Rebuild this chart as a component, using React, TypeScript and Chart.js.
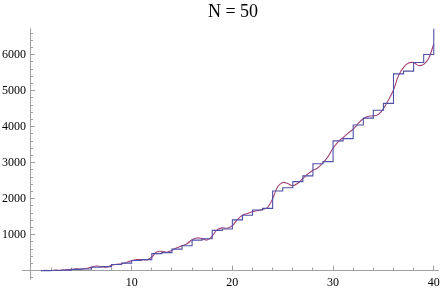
import React, { useEffect, useRef } from 'react';
import { Chart, registerables } from 'chart.js';

Chart.register(...registerables);

const chartTitle = 'N = 50';

// Step function values at each integer n (value holds from n to n+1)
const stepX = [1, 2, 3, 4, 5, 6, 7, 8, 9, 10, 11, 12, 13, 14, 15, 16, 17, 18, 19, 20,
  21, 22, 23, 24, 25, 26, 27, 28, 29, 30, 31, 32, 33, 34, 35, 36, 37, 38, 39, 40];
const stepY = [1, 7, 15, 36, 48, 96, 112, 172, 211, 283, 307, 475, 503, 599, 695, 850, 886, 1120, 1160, 1412,
  1540, 1684, 1732, 2212, 2305, 2473, 2633, 2969, 3029, 3605, 3669, 4047, 4239, 4455, 4647, 5466, 5542, 5782, 6006, 6726];

// Smooth approximation
const smoothX = [1, 1.5, 2, 2.5, 3, 3.5, 4, 4.5, 5, 5.5, 6, 6.5, 7, 7.5, 8, 8.5, 9, 9.5, 10, 10.5,
  11, 11.5, 12, 12.5, 13, 13.5, 14, 14.5, 15, 15.5, 16, 16.5, 17, 17.5, 18, 18.5, 19, 19.5, 20, 20.5,
  21, 21.5, 22, 22.5, 23, 23.5, 24, 24.5, 25, 25.5, 26, 26.5, 27, 27.5, 28, 28.5, 29, 29.5, 30, 30.5,
  31, 31.5, 32, 32.5, 33, 33.5, 34, 34.5, 35, 35.5, 36, 36.5, 37, 37.5, 38, 38.5, 39, 39.5, 40];
const smoothY = [0, 10, 5, 15, 12, 25, 35, 50, 45, 60, 100, 130, 115, 100, 150, 180, 195, 230, 280, 310,
  310, 300, 380, 520, 540, 510, 570, 640, 690, 750, 860, 910, 890, 855, 960, 1140, 1190, 1180, 1250, 1420,
  1540, 1590, 1635, 1670, 1700, 1760, 2000, 2330, 2450, 2420, 2360, 2430, 2560, 2690, 2790, 2860, 3000, 3170, 3400, 3580,
  3700, 3820, 3930, 4090, 4220, 4290, 4300, 4340, 4500, 4740, 5020, 5420, 5650, 5770, 5780, 5700, 5730, 5900, 6300];

const xTickLabels = [10, 20, 30, 40];
const xMinorTicks = [2, 4, 6, 8, 12, 14, 16, 18, 22, 24, 26, 28, 32, 34, 36, 38];
const yTickLabels = [1000, 2000, 3000, 4000, 5000, 6000];
const yMinorTicks = [-200, 200, 400, 600, 800, 1200, 1400, 1600, 1800, 2200, 2400, 2600, 2800,
  3200, 3400, 3600, 3800, 4200, 4400, 4600, 4800, 5200, 5400, 5600, 5800, 6200, 6400, 6600];

const FONT = '"Liberation Serif", "Times New Roman", serif';

const axesPlugin = {
  id: 'mmaAxes',
  beforeDatasetsDraw(chart: any) {
    const { ctx, chartArea } = chart;
    const xs = chart.scales.x;
    const ys = chart.scales.y;
    const ax = Math.floor(xs.getPixelForValue(0)) + 0.5;
    const ay = Math.floor(ys.getPixelForValue(0)) + 0.5;
    ctx.save();
    ctx.strokeStyle = '#a0a0a0';
    ctx.lineWidth = 1;
    ctx.beginPath();
    ctx.moveTo(chartArea.left, ay);
    ctx.lineTo(chartArea.right, ay);
    ctx.moveTo(ax, chartArea.top);
    ctx.lineTo(ax, chartArea.bottom);
    for (const v of xTickLabels) {
      const p = Math.floor(xs.getPixelForValue(v)) + 0.5;
      ctx.moveTo(p, ay);
      ctx.lineTo(p, ay - 5);
    }
    for (const v of xMinorTicks) {
      const p = Math.floor(xs.getPixelForValue(v)) + 0.5;
      ctx.moveTo(p, ay);
      ctx.lineTo(p, ay - 3);
    }
    for (const v of yTickLabels) {
      const p = Math.floor(ys.getPixelForValue(v)) + 0.5;
      ctx.moveTo(ax, p);
      ctx.lineTo(ax + 4.5, p);
    }
    for (const v of yMinorTicks) {
      const p = Math.floor(ys.getPixelForValue(v)) + 0.5;
      ctx.moveTo(ax, p);
      ctx.lineTo(ax + 2.5, p);
    }
    ctx.stroke();
    ctx.restore();
  },
  afterDraw(chart: any) {
    const { ctx } = chart;
    const xs = chart.scales.x;
    const ys = chart.scales.y;
    const ax = xs.getPixelForValue(0);
    const ay = ys.getPixelForValue(0);
    ctx.save();
    ctx.fillStyle = '#000';
    ctx.font = '12px ' + FONT;
    ctx.textAlign = 'right';
    ctx.textBaseline = 'middle';
    for (const v of yTickLabels) {
      ctx.fillText(String(v), ax - 5, ys.getPixelForValue(v) + 0.5);
    }
    ctx.textAlign = 'center';
    ctx.textBaseline = 'top';
    for (const v of xTickLabels) {
      ctx.fillText(String(v), xs.getPixelForValue(v), ay + 6);
    }
    ctx.font = '18px ' + FONT;
    ctx.textBaseline = 'alphabetic';
    ctx.fillText(chartTitle, 233, 17);
    ctx.restore();
  },
};

export default function App() {
  const ref = useRef<HTMLCanvasElement>(null);
  useEffect(() => {
    if (!ref.current) return;
    const chart = new Chart(ref.current, {
      type: 'line',
      data: {
        datasets: [
          {
            label: 'step',
            data: stepX.map((x, i) => ({ x, y: stepY[i] })),
            stepped: 'before',
            borderColor: '#5050a6',
            borderWidth: 1.1,
            pointRadius: 0,
            fill: false,
          },
          {
            label: 'smooth',
            data: smoothX.map((x, i) => ({ x, y: smoothY[i] })),
            borderColor: '#a04478',
            borderWidth: 1.1,
            pointRadius: 0,
            tension: 0.4,
            fill: false,
          },
        ],
      },
      options: {
        animation: false,
        responsive: false,
        events: [],
        layout: { padding: { left: 21.9, right: 4.2, top: 28.4, bottom: 10.3 } },
        plugins: { legend: { display: false }, title: { display: false }, tooltip: { enabled: false } },
        scales: {
          x: { type: 'linear', min: -0.9, max: 40.5, display: false },
          y: { type: 'linear', min: -250, max: 6730, display: false },
        },
      },
      plugins: [axesPlugin],
    });
    return () => chart.destroy();
  }, []);
  return (
    <div style={{ position: 'absolute', left: 0, top: 0, width: 443, height: 290, background: '#fff' }}>
      <canvas ref={ref} width={443} height={290} style={{ display: 'block' }} />
    </div>
  );
}
